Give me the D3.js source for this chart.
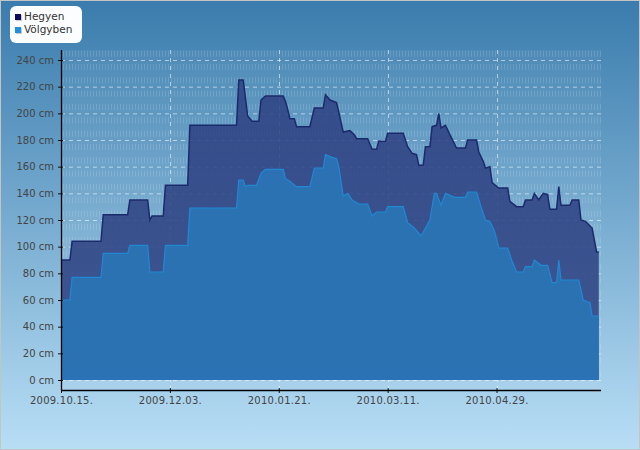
<!DOCTYPE html>
<html>
<head>
<meta charset="utf-8">
<script src="https://cdn.jsdelivr.net/npm/d3@7"></script>
<style>
  html, body { margin: 0; padding: 0; }
  body { width: 640px; height: 450px; overflow: hidden; }
  svg { display: block; font-family: "DejaVu Sans", sans-serif; }
</style>
</head>
<body>
<script>
const width = 640;
const height = 450;

// series names
const seriesNames = ['Hegyen', 'Völgyben'];

// Hegyen (mountain) snow depth, cm
const hegyenDates = ['2009-10-15','2009-10-19','2009-10-20','2009-11-02','2009-11-03','2009-11-14','2009-11-15','2009-11-23','2009-11-24','2009-11-25',
  '2009-11-30','2009-12-01','2009-12-11','2009-12-12','2010-01-02','2010-01-03','2010-01-05','2010-01-07','2010-01-09','2010-01-12',
  '2010-01-13','2010-01-15','2010-01-23','2010-01-24','2010-01-25','2010-01-26','2010-01-28','2010-01-29','2010-02-04','2010-02-06',
  '2010-02-10','2010-02-11','2010-02-13','2010-02-16','2010-02-19','2010-02-22','2010-02-24','2010-02-25','2010-03-02','2010-03-04',
  '2010-03-06','2010-03-07','2010-03-10','2010-03-11','2010-03-18','2010-03-20','2010-03-22','2010-03-24','2010-03-25','2010-03-27',
  '2010-03-28','2010-03-30','2010-03-31','2010-04-02','2010-04-03','2010-04-04','2010-04-06','2010-04-08','2010-04-11','2010-04-15',
  '2010-04-16','2010-04-20','2010-04-21','2010-04-23','2010-04-24','2010-04-26','2010-04-27','2010-04-30','2010-05-04','2010-05-05',
  '2010-05-08','2010-05-11','2010-05-12','2010-05-15','2010-05-16','2010-05-18','2010-05-20','2010-05-22','2010-05-23','2010-05-26',
  '2010-05-27','2010-05-28','2010-06-01','2010-06-02','2010-06-05','2010-06-06','2010-06-08','2010-06-11','2010-06-12','2010-06-13',
  '2010-06-14'];
const hegyenValues = [90, 90, 104, 104, 124, 124, 135, 135, 120, 123,
  123, 146, 146, 191, 191, 225, 225, 198, 194, 194,
  210, 213, 213, 209, 203, 196, 196, 190, 190, 204,
  204, 214, 210, 208, 186, 187, 184, 181, 181, 173,
  173, 179, 179, 185, 185, 175, 170, 169, 161, 161,
  175, 175, 190, 191, 200, 189, 191, 184, 174, 174,
  180, 180, 171, 164, 159, 160, 148, 144, 144, 134,
  130, 130, 135, 135, 140, 135, 140, 139, 128, 128,
  145, 131, 131, 135, 135, 120, 119, 114, 105, 96,
  96];

// Völgyben (valley) snow depth, cm
const volgyDates = ['2009-10-15','2009-10-19','2009-10-20','2009-11-02','2009-11-03','2009-11-14','2009-11-15','2009-11-23','2009-11-24','2009-11-30',
  '2009-12-01','2009-12-11','2009-12-12','2010-01-02','2010-01-03','2010-01-05','2010-01-06','2010-01-07','2010-01-11','2010-01-13',
  '2010-01-15','2010-01-23','2010-01-24','2010-01-26','2010-01-29','2010-02-04','2010-02-06','2010-02-10','2010-02-11','2010-02-14',
  '2010-02-16','2010-02-17','2010-02-19','2010-02-21','2010-02-23','2010-02-26','2010-03-02','2010-03-04','2010-03-06','2010-03-10',
  '2010-03-11','2010-03-18','2010-03-20','2010-03-23','2010-03-26','2010-03-30','2010-04-01','2010-04-02','2010-04-04','2010-04-06',
  '2010-04-10','2010-04-15','2010-04-16','2010-04-20','2010-04-22','2010-04-24','2010-04-26','2010-04-28','2010-04-30','2010-05-04',
  '2010-05-06','2010-05-08','2010-05-11','2010-05-12','2010-05-15','2010-05-16','2010-05-19','2010-05-22','2010-05-24','2010-05-26',
  '2010-05-27','2010-05-28','2010-06-05','2010-06-07','2010-06-10','2010-06-11','2010-06-14'];
const volgyValues = [60, 60, 77, 77, 95, 95, 101, 101, 81, 81,
  101, 101, 129, 129, 150, 150, 145, 146, 146, 155,
  158, 158, 151, 149, 145, 145, 159, 159, 169, 167,
  166, 160, 138, 140, 135, 132, 132, 123, 126, 126,
  130, 130, 118, 114, 108, 120, 140, 140, 131, 140,
  137, 137, 141, 141, 130, 120, 119, 112, 99, 99,
  89, 81, 81, 85, 85, 90, 86, 86, 73, 73,
  90, 75, 75, 60, 58, 48, 48];

// axis ticks
const xTickDates = ['2009-10-15', '2009-12-03', '2010-01-21', '2010-03-11', '2010-04-29'];
const yTickValues = [0, 20, 40, 60, 80, 100, 120, 140, 160, 180, 200, 220, 240];

const parseDate = d3.utcParse('%Y-%m-%d');
const formatDate = d3.utcFormat('%Y.%m.%d.');

let hegyen = hegyenDates.map((d, i) => ({date: parseDate(d), value: hegyenValues[i]}));
let volgy = volgyDates.map((d, i) => ({date: parseDate(d), value: volgyValues[i]}));

let svg = d3.select('body')
            .append('svg')
            .attr('width', width)
            .attr('height', height);

let defs = svg.append('defs');

let bg = defs.append('linearGradient')
             .attr('id', 'bg')
             .attr('x1', 0).attr('y1', 0)
             .attr('x2', 0).attr('y2', 1);
bg.append('stop').attr('offset', '0%').attr('stop-color', '#3a7cad');
bg.append('stop').attr('offset', '100%').attr('stop-color', '#b8def5');

let stripes = defs.append('pattern')
                  .attr('id', 'stripes')
                  .attr('patternUnits', 'userSpaceOnUse')
                  .attr('width', 3)
                  .attr('height', 10);
stripes.append('rect')
       .attr('x', 0).attr('y', 0)
       .attr('width', 1).attr('height', 10)
       .attr('fill', '#ffffff')
       .attr('fill-opacity', 0.13);

// page background
svg.append('rect')
   .attr('x', 0.5).attr('y', 0.5)
   .attr('width', width - 1).attr('height', height - 1)
   .attr('fill', 'url(#bg)')
   .attr('stroke', '#c4c4c4')
   .attr('stroke-width', 1);

let xScale = d3.scaleUtc()
               .domain([parseDate('2009-10-15'), parseDate('2010-06-15')])
               .range([61, 601]);

let yScale = d3.scaleLinear()
               .domain([-7.5, 247.5])
               .range([390, 50]);

const plotLeft = xScale.range()[0];
const plotRight = xScale.range()[1];
const plotTop = yScale.range()[1];
const plotBottom = yScale.range()[0];

// plot background
svg.append('rect')
   .attr('x', plotLeft).attr('y', plotTop)
   .attr('width', plotRight - plotLeft).attr('height', plotBottom - plotTop)
   .attr('fill', '#ffffff')
   .attr('fill-opacity', 0.04);

// textured bands
svg.append('g')
   .selectAll('rect')
   .data(d3.range(10, 260, 10))
   .enter()
   .append('rect')
   .attr('x', plotLeft)
   .attr('y', d => Math.max(plotTop, yScale(d) + 4))
   .attr('width', plotRight - plotLeft)
   .attr('height', d => yScale(d) + 10 - Math.max(plotTop, yScale(d) + 4))
   .attr('fill', 'url(#stripes)');

// grid
let grid = svg.append('g');
grid.selectAll('line.h')
    .data(yTickValues)
    .enter()
    .append('line')
    .attr('class', 'h')
    .attr('x1', plotLeft).attr('x2', plotRight)
    .attr('y1', d => yScale(d) + 0.5).attr('y2', d => yScale(d) + 0.5)
    .attr('stroke', '#ffffff')
    .attr('stroke-opacity', 0.55)
    .attr('stroke-dasharray', '4,4');
grid.selectAll('line.v')
    .data(xTickDates)
    .enter()
    .append('line')
    .attr('class', 'v')
    .attr('x1', d => Math.round(xScale(parseDate(d))) + 0.5)
    .attr('x2', d => Math.round(xScale(parseDate(d))) + 0.5)
    .attr('y1', plotTop).attr('y2', plotBottom)
    .attr('stroke', '#ffffff')
    .attr('stroke-opacity', 0.55)
    .attr('stroke-dasharray', '4,4');

let area = d3.area()
             .x(d => xScale(d.date))
             .y0(yScale(0))
             .y1(d => yScale(d.value));

let line = d3.line()
             .x(d => xScale(d.date))
             .y(d => yScale(d.value));

svg.append('path')
   .datum(hegyen)
   .attr('d', area)
   .attr('fill', '#2f4383')
   .attr('fill-opacity', 0.88);
svg.append('path')
   .datum(hegyen)
   .attr('d', line)
   .attr('fill', 'none')
   .attr('stroke', '#1c2a6c')
   .attr('stroke-width', 1.5);

svg.append('path')
   .datum(volgy)
   .attr('d', area)
   .attr('fill', '#2b74b6')
   .attr('fill-opacity', 0.94);
svg.append('path')
   .datum(volgy)
   .attr('d', line)
   .attr('fill', 'none')
   .attr('stroke', '#2188d4')
   .attr('stroke-width', 1.2);

// axes
let yAxis = d3.axisLeft(yScale)
              .tickValues(yTickValues)
              .tickSize(3)
              .tickPadding(4)
              .tickFormat(d => d + ' cm');
let yAxisG = svg.append('g')
                .attr('transform', `translate(${plotLeft}, 0)`)
                .call(yAxis);
yAxisG.select('.domain').remove();
yAxisG.selectAll('.tick line').attr('x2', 2).attr('x1', -3).attr('stroke', '#111');
yAxisG.selectAll('text')
      .attr('font-size', 10)
      .attr('font-family', 'DejaVu Sans')
      .attr('fill', '#444');
yAxisG.append('line')
      .attr('x1', 0.5).attr('x2', 0.5)
      .attr('y1', plotTop).attr('y2', plotBottom + 0.5)
      .attr('stroke', '#000')
      .attr('stroke-width', 1.3);

let xAxis = d3.axisBottom(xScale)
              .tickValues(xTickDates.map(parseDate))
              .tickSize(3)
              .tickPadding(4)
              .tickFormat(formatDate);
let xAxisG = svg.append('g')
                .attr('transform', `translate(0, ${plotBottom})`)
                .call(xAxis);
xAxisG.select('.domain').remove();
xAxisG.selectAll('.tick line').attr('y1', -2).attr('stroke', '#111');
xAxisG.selectAll('text')
      .attr('font-size', 10)
      .attr('font-family', 'DejaVu Sans')
      .attr('fill', '#444')
      .attr('letter-spacing', 0.25);
xAxisG.append('line')
      .attr('x1', plotLeft).attr('x2', plotRight)
      .attr('y1', 0.5).attr('y2', 0.5)
      .attr('stroke', '#000')
      .attr('stroke-width', 1.3);

// legend
const legendColors = ['#0c0c5e', '#1e90de'];
let legend = svg.append('g')
                .attr('transform', 'translate(10, 6)');
legend.append('rect')
      .attr('width', 72).attr('height', 37)
      .attr('rx', 6).attr('ry', 6)
      .attr('fill', '#fbfdff');
let items = legend.selectAll('g.item')
                  .data(seriesNames)
                  .enter()
                  .append('g')
                  .attr('class', 'item')
                  .attr('transform', (d, i) => `translate(5, ${8 + i * 13})`);
items.append('rect')
     .attr('x', 1).attr('y', 1)
     .attr('width', 6).attr('height', 6)
     .attr('fill', '#c8c8d0');
items.append('rect')
     .attr('width', 6).attr('height', 6)
     .attr('fill', (d, i) => legendColors[i]);
items.append('text')
     .attr('x', 9).attr('y', 6)
     .attr('font-size', 10.5)
     .attr('fill', '#333')
     .text(d => d);
</script>
</body>
</html>
